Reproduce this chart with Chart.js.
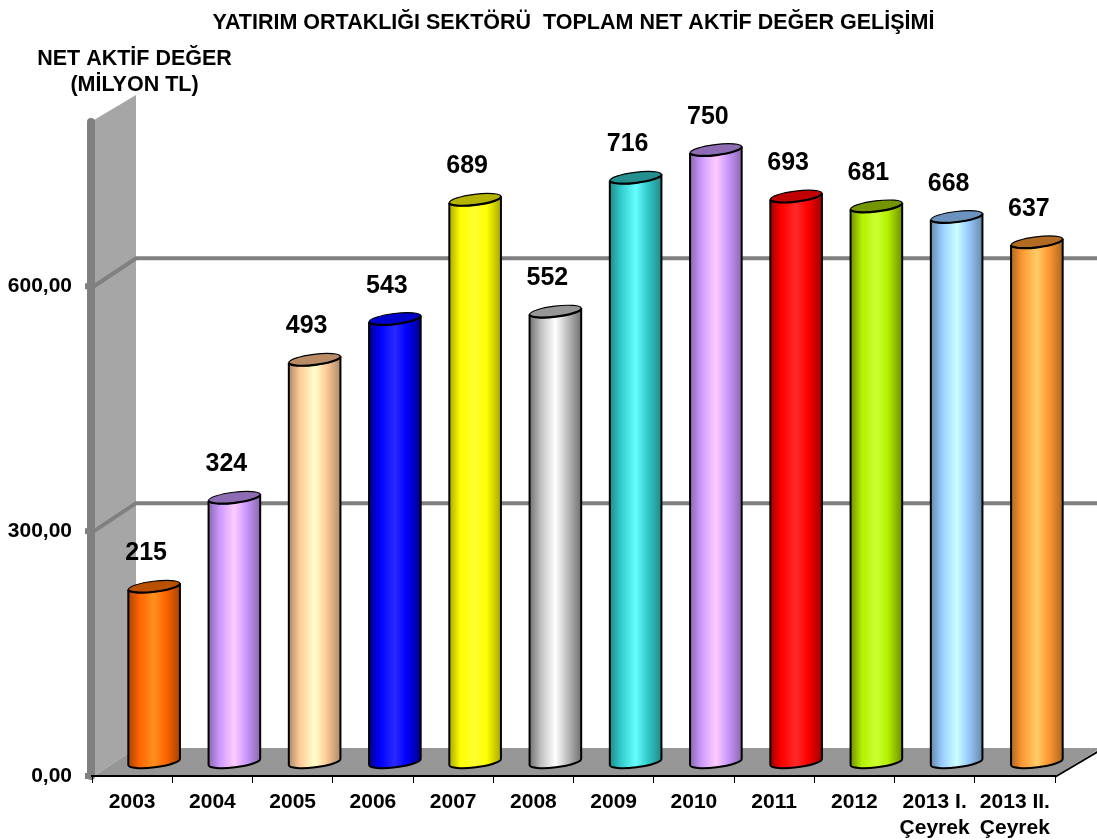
<!DOCTYPE html>
<html>
<head>
<meta charset="utf-8">
<style>html,body{margin:0;padding:0;background:#fff}canvas{display:block}</style>
<script src="https://cdn.jsdelivr.net/npm/chart.js@4"></script>
</head>
<body>
<canvas id="c" width="1097" height="840"></canvas>
<script>
const categories = ["2003","2004","2005","2006","2007","2008","2009","2010","2011","2012",["2013 I.","Çeyrek"],["2013 II.","Çeyrek"]];
const values = [215,324,493,543,689,552,716,750,693,681,668,637];
const yTicks = [0,300,600];
const titleText = "YATIRIM ORTAKLIĞI SEKTÖRÜ  TOPLAM NET AKTİF DEĞER GELİŞİMİ";
const yTitle = ["NET AKTİF DEĞER","(MİLYON TL)"];
const midColors   = ["#ff6600","#cc99ff","#ffcc99","#0000ff","#ffff00","#c0c0c0","#33cccc","#cc99ff","#ff0000","#b3f000","#99ccff","#ff9933"];
const lightColors = ["#ff9020","#ffccff","#ffffcc","#2a2aff","#ffff33","#ffffff","#66ffff","#ffccff","#ff2a2a","#ccff33","#ccffff","#ffcc66"];
const darkColors  = ["#a84300","#8a68ad","#ad8a68","#00008a","#a8a800","#707070","#1f8a8a","#8a68ad","#a00000","#6f8f00","#6688aa","#ad6722"];
const topColors   = ["#b85000","#8e6cb3","#b98c66","#0000cc","#b3b300","#969696","#238f8f","#8e6cb3","#c00000","#739600","#6b93bd","#b36b24"];

const FONT = '"Liberation Sans", Arial, sans-serif';
const DX = 42, DY = -28;

const backdrop = {
  id: 'backdrop',
  beforeDraw(chart) {
    const {ctx, scales:{x, y}, chartArea:a} = chart;
    const y0 = y.getPixelForValue(0), yTop = y.getPixelForValue(800);
    const left = a.left + 2, right = a.right;
    ctx.save();
    // side wall
    ctx.fillStyle = '#a6a6a6';
    ctx.beginPath();
    ctx.moveTo(left, yTop - 3);
    ctx.lineTo(left + DX, yTop + DY);
    ctx.lineTo(left + DX, y0 + DY);
    ctx.lineTo(left, y0);
    ctx.closePath(); ctx.fill();
    // floor
    ctx.fillStyle = '#969696';
    ctx.beginPath();
    ctx.moveTo(left, y0);
    ctx.lineTo(left + DX, y0 + DY);
    ctx.lineTo(right + 46, y0 + DY);
    ctx.lineTo(right, y0);
    ctx.closePath(); ctx.fill();
    // floor right edge
    ctx.strokeStyle = '#000'; ctx.lineWidth = 2;
    ctx.beginPath(); ctx.moveTo(right, y0 + 1); ctx.lineTo(right + 44, y0 + 1 + DY + 2); ctx.stroke();
    // value gridlines
    ctx.strokeStyle = '#808080'; ctx.lineWidth = 4; ctx.lineJoin = 'miter';
    yTicks.slice(1).forEach(v => {
      const p = y.getPixelForValue(v);
      ctx.beginPath();
      ctx.moveTo(left, p);
      ctx.lineTo(left + DX, p + DY);
      ctx.lineTo(1100, p + DY);
      ctx.stroke();
    });
    // axis post
    ctx.lineCap = 'round'; ctx.lineWidth = 8;
    ctx.beginPath(); ctx.moveTo(a.left - 1, yTop - 1); ctx.lineTo(a.left - 1, y0); ctx.stroke();
    // stubs
    ctx.lineCap = 'butt'; ctx.lineWidth = 6;
    yTicks.forEach(v => {
      const p = y.getPixelForValue(v);
      ctx.beginPath(); ctx.moveTo(a.left - 7, p); ctx.lineTo(a.left + 2, p); ctx.stroke();
    });
    // y axis title
    ctx.fillStyle = '#000'; ctx.font = 'bold 21.5px ' + FONT;
    ctx.textAlign = 'center'; ctx.textBaseline = 'middle';
    ctx.fillText(yTitle[0], 134.5, 59);
    ctx.fillText(yTitle[1], 134.5, 85);
    ctx.restore();
  },
  beforeDatasetDraw() { return false; },
  afterDatasetsDraw(chart) {
    const {ctx} = chart;
    const meta = chart.getDatasetMeta(0);
    const ROT = -7 * Math.PI / 180, RY = 5.3;
    meta.data.forEach((el, i) => {
      const cx = el.x + 22, rx = el.width / 2;
      const yt = el.y + DY / 2, yb = el.base + DY / 2;
      const ex = rx * Math.cos(ROT), ey = rx * Math.sin(ROT);
      const g = ctx.createLinearGradient(cx - rx, 0, cx + rx, 0);
      g.addColorStop(0, darkColors[i]);
      g.addColorStop(0.22, midColors[i]);
      g.addColorStop(0.5, lightColors[i]);
      g.addColorStop(0.72, midColors[i]);
      g.addColorStop(1, darkColors[i]);
      ctx.save();
      ctx.beginPath();
      ctx.moveTo(cx + ex, yt + ey);
      ctx.lineTo(cx + ex, yb + ey);
      ctx.ellipse(cx, yb, rx, RY, ROT, 0, Math.PI);
      ctx.lineTo(cx - ex, yt - ey);
      ctx.fillStyle = g; ctx.fill();
      ctx.strokeStyle = '#000'; ctx.lineWidth = 2; ctx.lineJoin = 'round'; ctx.stroke();
      // cap: thin far rim, heavy near rim
      ctx.beginPath();
      ctx.ellipse(cx, yt, rx, RY, ROT, 0, 2 * Math.PI);
      ctx.fillStyle = topColors[i]; ctx.fill();
      ctx.lineWidth = 1.2; ctx.stroke();
      ctx.beginPath();
      ctx.ellipse(cx, yt, rx, RY, ROT, 0, Math.PI);
      ctx.lineWidth = 2.2; ctx.stroke();
      ctx.fillStyle = '#000';
      ctx.font = 'bold 25px ' + FONT;
      ctx.textAlign = 'center'; ctx.textBaseline = 'middle';
      ctx.fillText(String(values[i]), cx - 8, yt - 33);
      ctx.restore();
    });
  }
};

new Chart(document.getElementById('c'), {
  type: 'bar',
  data: { labels: categories, datasets: [{ data: values, backgroundColor: midColors, categoryPercentage: 1, barPercentage: 0.648 }] },
  plugins: [backdrop],
  options: {
    responsive: false, animation: false, devicePixelRatio: 1,
    layout: { padding: { right: 42 } },
    plugins: {
      legend: { display: false }, tooltip: { enabled: false },
      title: {
        display: true, text: titleText, color: '#000', fullSize: false,
        font: { family: FONT, size: 21.5, weight: 'bold', lineHeight: 1.2 },
        padding: { top: 10, bottom: 87.2 }
      }
    },
    scales: {
      x: {
        afterFit(s) { s.height = 64; },
        border: { color: '#000', width: 2 },
        grid: { drawOnChartArea: false, drawTicks: true, tickLength: 7, color: '#000', lineWidth: 1 },
        ticks: { color: '#000', font: { family: FONT, size: 21, weight: 'bold', lineHeight: 1.2 }, padding: 7, maxRotation: 0, minRotation: 0, autoSkip: false }
      },
      y: {
        min: 0, max: 800,
        afterFit(s) { s.width = 92; },
        afterBuildTicks(s) { s.ticks = yTicks.map(v => ({ value: v })); },
        border: { display: false },
        grid: { display: false, drawTicks: false },
        ticks: { color: '#000', font: { family: FONT, size: 21, weight: 'bold' }, padding: 20,
          callback: v => v.toFixed(2).replace('.', ',') }
      }
    }
  }
});
</script>
</body>
</html>
